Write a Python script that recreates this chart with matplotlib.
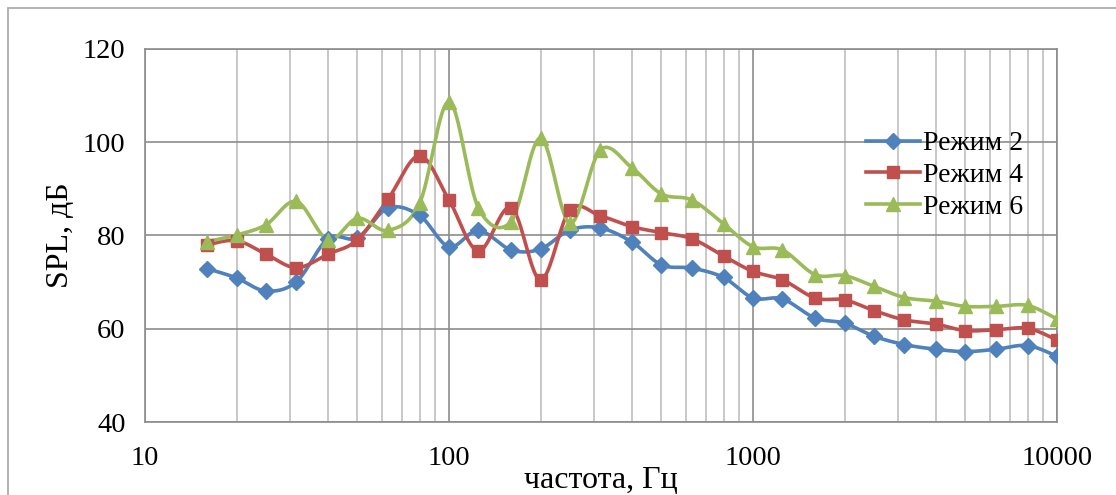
import numpy as np
import matplotlib.pyplot as plt
from matplotlib.lines import Line2D
from matplotlib.ticker import LogLocator, FixedLocator, NullFormatter

plt.rcParams['font.family'] = ['Liberation Serif', 'DejaVu Serif']

# Data: 1/3-octave band centre frequencies, SPL per mode
freq = [16, 20, 25, 31.5, 40, 50, 63, 80, 100, 125, 160, 200, 250, 315, 400,
        500, 630, 800, 1000, 1250, 1600, 2000, 2500, 3150, 4000, 5000, 6300,
        8000, 10000]

mode2 = [72.9, 70.9, 68.1, 70.1, 79.3, 79.5, 85.9, 84.3, 77.6, 81.1, 76.9, 77.1,
         81.2, 81.6, 78.6, 73.7, 73.0, 71.0, 66.6, 66.4, 62.3, 61.2, 58.4, 56.6,
         55.6, 55.1, 55.6, 56.4, 54.1]

mode4 = [78.0, 78.9, 76.0, 73.1, 76.0, 79.1, 87.8, 97.1, 87.6, 76.7, 86.0, 70.5,
         85.5, 84.2, 81.9, 80.6, 79.3, 75.6, 72.3, 70.5, 66.6, 66.2, 63.9, 61.9,
         61.0, 59.6, 59.8, 60.1, 57.6]

mode6 = [78.7, 80.1, 82.3, 87.3, 79.1, 83.7, 81.1, 86.9, 108.7, 85.9, 83.0, 100.9,
         82.6, 98.4, 94.5, 88.9, 87.6, 82.5, 77.6, 76.9, 71.6, 71.4, 69.1, 66.7,
         65.9, 64.8, 64.8, 65.0, 62.1]

labels = ["Режим 2", "Режим 4", "Режим 6"]
colors = ["#4F81BD", "#C0504D", "#9BBB59"]
markers = ["D", "s", "^"]
msizes = [8, 9, 10]


def smooth(xs, ys, n=20):
    # Excel-like smoothed line: cubic Bezier with Catmull-Rom control points,
    # computed in (log10 f, y) space
    u = np.log10(xs)
    y = np.asarray(ys, dtype=float)
    pts = np.column_stack([u, y])
    out = [pts[0]]
    t = np.linspace(0, 1, n)[1:, None]
    for i in range(len(pts) - 1):
        p0 = pts[i]
        p3 = pts[i + 1]
        prev = pts[i - 1] if i > 0 else pts[i]
        nxt = pts[i + 2] if i + 2 < len(pts) else pts[i + 1]
        p1 = p0 + (p3 - prev) / 6
        p2 = p3 - (nxt - p0) / 6
        seg = ((1 - t) ** 3 * p0 + 3 * (1 - t) ** 2 * t * p1
               + 3 * (1 - t) * t ** 2 * p2 + t ** 3 * p3)
        out.extend(seg)
    out = np.array(out)
    return 10 ** out[:, 0], out[:, 1]


fig = plt.figure(figsize=(11.16, 4.95), dpi=100)
ax = fig.add_axes([145 / 1116, 73 / 495, 912 / 1116, 373 / 495])

# outer chart border (Excel chart area)
fig.add_artist(plt.Rectangle((8 / 1116, -0.1), 1.2, (495 - 8) / 495 + 0.1,
                             transform=fig.transFigure, fill=False,
                             edgecolor="#a6a6a6", linewidth=1.2))

ax.set_xscale("log")
ax.set_xlim(10, 10000)
ax.set_ylim(40, 120)
ax.set_yticks([40, 60, 80, 100, 120])
ax.xaxis.set_major_locator(FixedLocator([10, 100, 1000, 10000]))
ax.set_xticklabels(["10", "100", "1000", "10000"])
ax.xaxis.set_minor_locator(LogLocator(base=10, subs=np.arange(2, 10)))
ax.xaxis.set_minor_formatter(NullFormatter())

ax.grid(True, which="major", axis="both", color="#8c8c8c", linewidth=1.2)
ax.grid(True, which="minor", axis="x", color="#bfbfbf", linewidth=1.2)
ax.set_axisbelow(True)
for s in ax.spines.values():
    s.set_color("#8c8c8c")
    s.set_linewidth(1.2)
ax.tick_params(which="both", length=0, labelsize=20.5, colors="black")
ax.tick_params(axis="y", pad=14)
ax.tick_params(axis="x", pad=17)

series = [mode2, mode4, mode6]
handles = []
for vals, lab, c, m, ms in zip(series, labels, colors, markers, msizes):
    sx, sy = smooth(freq, vals)
    ax.plot(sx, sy, color=c, linewidth=2.6, solid_capstyle="round", zorder=3)
    ax.plot(freq, vals, linestyle="none", marker=m, markersize=ms, color=c,
            markeredgecolor=c, zorder=4)
    handles.append(Line2D([], [], color=c, linewidth=2.6, marker=m,
                          markersize=ms, markeredgecolor=c))

ax.set_xlabel("частота, Гц", fontsize=23, labelpad=-3)
ax.set_ylabel("SPL, дБ", fontsize=23, labelpad=6)

ax.legend(handles, labels, loc="upper left", bbox_to_anchor=(0.778, 0.81),
          frameon=False, fontsize=20, handlelength=1.95, handletextpad=0.1,
          labelspacing=0.22, borderaxespad=0)

fig.savefig("out.png", dpi=100)
